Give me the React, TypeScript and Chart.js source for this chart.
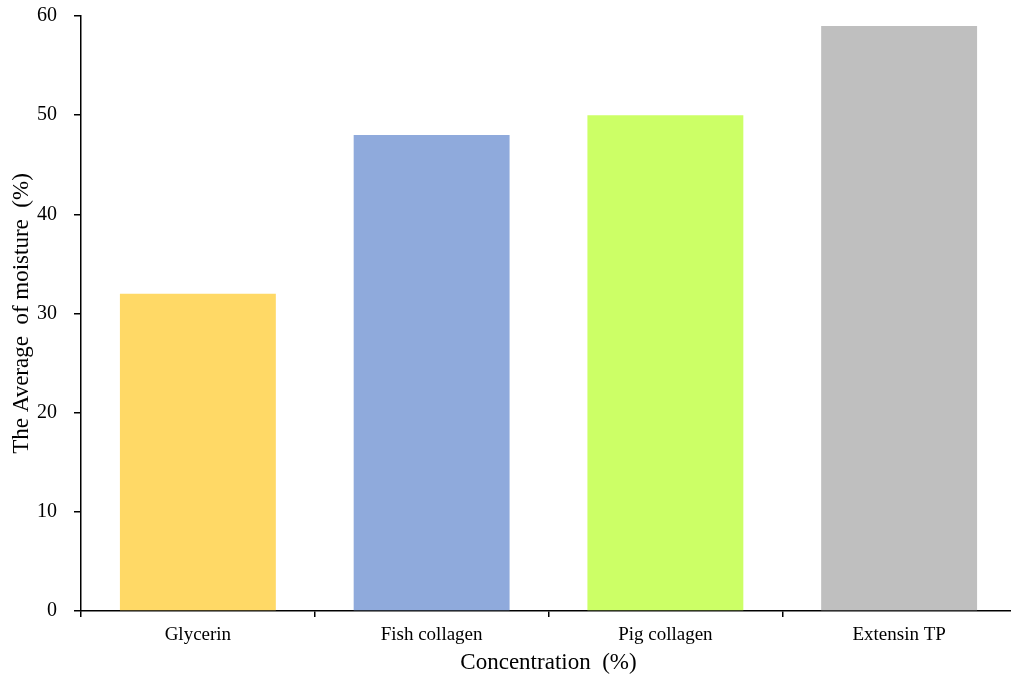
import React, { useEffect, useRef } from "react";
import { Chart, registerables } from "chart.js";

Chart.register(...registerables);

const categories = ["Glycerin", "Fish collagen", "Pig collagen", "Extensin TP"];
const values = [32, 48, 50, 59];
const barColors = ["#FFD966", "#8FAADC", "#CCFF66", "#BFBFBF"];
const yTitle = "The Average  of moisture  (%)";
const xTitle = "Concentration  (%)";
const yMin = 0;
const yMax = 60;
const yStep = 10;

const FONT = "'Liberation Serif', 'Times New Roman', serif";

export default function App() {
  const ref = useRef<HTMLCanvasElement | null>(null);

  useEffect(() => {
    if (!ref.current) return;
    const chart = new Chart(ref.current, {
      type: "bar",
      data: {
        labels: categories,
        datasets: [
          {
            data: values,
            backgroundColor: barColors,
            borderWidth: 0,
            categoryPercentage: 1,
            barPercentage: 0.667,
          },
        ],
      },
      options: {
        animation: false,
        responsive: true,
        maintainAspectRatio: false,
        layout: { padding: { top: 16, left: 0, right: 0, bottom: 0 } },
        plugins: {
          legend: { display: false },
          tooltip: { enabled: false },
        },
        scales: {
          x: {
            afterFit: (scale: any) => {
              scale.height = 66;
            },
            grid: {
              offset: true,
              drawOnChartArea: false,
              drawTicks: true,
              tickLength: 6,
              color: "#000",
              lineWidth: 1.5,
            },
            border: { display: true, color: "#000", width: 1.5 },
            ticks: {
              color: "#000",
              font: { family: FONT, size: 19 },
              padding: 7,
            },
            title: {
              display: true,
              text: xTitle,
              color: "#000",
              font: { family: FONT, size: 23 },
              padding: { top: 0, bottom: 0 },
            },
          },
          y: {
            min: yMin,
            max: yMax,
            afterFit: (scale: any) => {
              scale.width = 81;
              scale.paddingTop = 0;
              scale.paddingBottom = 0;
            },
            grid: {
              drawOnChartArea: false,
              drawTicks: true,
              tickLength: 7,
              color: "#000",
              lineWidth: 1.5,
            },
            border: { display: true, color: "#000", width: 1.5 },
            ticks: {
              stepSize: yStep,
              color: "#000",
              font: { family: FONT, size: 20 },
              padding: 17,
            },
            title: {
              display: true,
              text: yTitle,
              color: "#000",
              font: { family: FONT, size: 23 },
              padding: { top: 8, bottom: 0 },
            },
          },
        },
      },
    });
    return () => chart.destroy();
  }, []);

  return (
    <div
      style={{
        position: "fixed",
        left: 0,
        top: 0,
        width: 1011,
        height: 677,
        overflow: "hidden",
        background: "#fff",
      }}
    >
      <div style={{ position: "relative", width: 1016, height: 677 }}>
        <canvas ref={ref} />
      </div>
    </div>
  );
}
